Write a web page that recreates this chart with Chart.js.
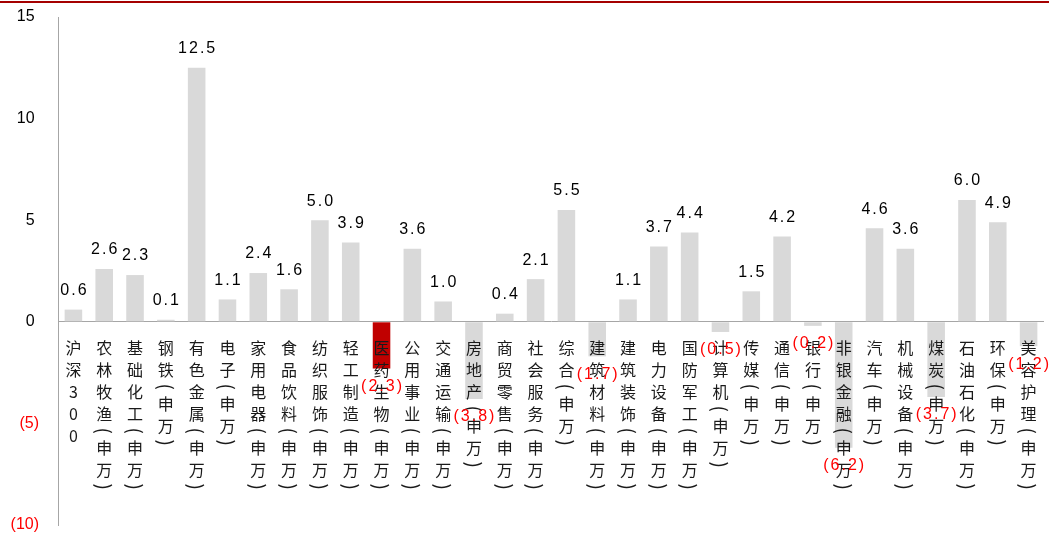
<!DOCTYPE html>
<html>
<head>
<meta charset="utf-8">
<script src="https://cdn.jsdelivr.net/npm/chart.js@4.4.1/dist/chart.umd.min.js"></script>
<style>
html, body { margin: 0; padding: 0; background: #fff; }
#wrap { position: relative; width: 1049px; height: 535px; }
</style>
</head>
<body>
<div id="wrap"><canvas id="chart"></canvas></div>
<script>
const categories = [
    '沪深300', '农林牧渔(申万)', '基础化工(申万)', '钢铁(申万)', '有色金属(申万)', '电子(申万)',
    '家用电器(申万)', '食品饮料(申万)', '纺织服饰(申万)', '轻工制造(申万)', '医药生物(申万)',
    '公用事业(申万)', '交通运输(申万)', '房地产(申万)', '商贸零售(申万)', '社会服务(申万)',
    '综合(申万)', '建筑材料(申万)', '建筑装饰(申万)', '电力设备(申万)', '国防军工(申万)',
    '计算机(申万)', '传媒(申万)', '通信(申万)', '银行(申万)', '非银金融(申万)', '汽车(申万)',
    '机械设备(申万)', '煤炭(申万)', '石油石化(申万)', '环保(申万)', '美容护理(申万)'
]
const values = [
    0.6, 2.6, 2.3, 0.1, 12.5, 1.1,
    2.4, 1.6, 5.0, 3.9, -2.3,
    3.6, 1.0, -3.8, 0.4, 2.1,
    5.5, -1.7, 1.1, 3.7, 4.4,
    -0.5, 1.5, 4.2, -0.2, -6.2, 4.6,
    3.6, -3.7, 6.0, 4.9, -1.2
]
const highlighted = ['医药生物(申万)']
const yMin = -10
const yMax = 15
const yStep = 5

const barColors = categories.map(c => highlighted.includes(c) ? '#c00000' : '#d9d9d9')

function fmt(v) {
    return v < 0 ? `(${Math.abs(v).toFixed(1)})` : v.toFixed(1)
}

// vertical category names + value labels + the thin rule on top
const labelsPlugin = {
    id: 'labels',
    afterDraw(chart) {
        const ctx = chart.ctx
        const xs = chart.scales.x
        const zeroY = chart.scales.y.getPixelForValue(0)
        ctx.save()
        ctx.fillStyle = '#a50000'
        ctx.fillRect(0, 1, chart.width, 2)

        ctx.fillStyle = '#1a1a1a'
        ctx.textAlign = 'center'
        ctx.textBaseline = 'middle'
        categories.forEach((name, i) => {
            const cx = xs.getPixelForValue(i)
            let cy = zeroY + 26
            let prev = null
            for (const ch of name) {
                const paren = ch === '(' || ch === ')'
                const adv = paren ? 12 : 22
                if (prev !== null) cy += (prev + adv) / 2
                prev = adv
                if (paren) {
                    ctx.font = '19px "Noto Sans CJK SC"'
                    ctx.save()
                    ctx.translate(cx, cy)
                    ctx.rotate(Math.PI / 2)
                    ctx.fillText(ch, 0, 0)
                    ctx.restore()
                } else {
                    ctx.font = '16px "Noto Sans CJK SC"'
                    ctx.fillText(ch, cx, cy)
                }
            }
        })

        const meta = chart.getDatasetMeta(0)
        ctx.font = '16px "Liberation Sans"'
        ctx.letterSpacing = '2px'
        meta.data.forEach((bar, i) => {
            const v = values[i]
            if (v < 0) {
                ctx.fillStyle = '#ff0000'
                ctx.fillText(fmt(v), bar.x + 1, bar.y + 18)
            } else {
                ctx.fillStyle = '#000000'
                ctx.fillText(fmt(v), bar.x + 1, bar.y - 19)
            }
        })
        ctx.restore()
    }
}

new Chart(document.getElementById('chart'), {
    type: 'bar',
    data: {
        labels: categories,
        datasets: [{
            data: values,
            backgroundColor: barColors,
            barPercentage: 0.57,
            categoryPercentage: 1.0
        }]
    },
    options: {
        responsive: true,
        maintainAspectRatio: false,
        animation: false,
        layout: { padding: { top: 17, bottom: 10, left: 0, right: 5 } },
        plugins: {
            legend: { display: false },
            tooltip: { enabled: false }
        },
        scales: {
            x: { display: false },
            y: {
                min: yMin,
                max: yMax,
                afterFit(scale) {
                    scale.width = 58
                    // tick padding would otherwise push the plot area in
                    scale.paddingTop = 0
                    scale.paddingBottom = 0
                },
                ticks: {
                    stepSize: yStep,
                    padding: 19,
                    font: { family: 'Liberation Sans', size: 16 },
                    color: c => c.tick.value < 0 ? '#ff0000' : '#000000',
                    callback: v => v < 0 ? `(${-v})` : `${v} `
                },
                grid: {
                    drawTicks: false,
                    lineWidth: 1,
                    color: c => (c.tick && c.tick.value === 0) ? '#a6a6a6' : 'rgba(0,0,0,0)'
                },
                border: { color: '#a6a6a6', width: 1 }
            }
        }
    },
    plugins: [labelsPlugin]
})
</script>
</body>
</html>
